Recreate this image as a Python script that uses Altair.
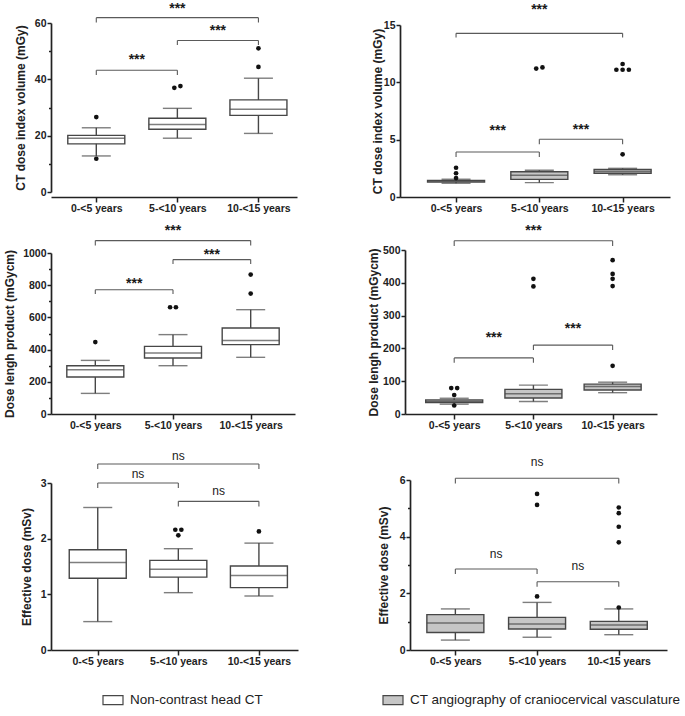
import json
import altair as alt
import pandas as pd

categories = ["0-<5 years", "5-<10 years", "10-<15 years"]
groups = ["Non-contrast head CT", "CT angiography of craniocervical vasculature"]
pair_from = [0, 1, 0]
pair_to = [1, 2, 2]

# --- CT dose index volume, non-contrast head CT
ctdi_nc_low = [12.8, 19.1, 20.8]
ctdi_nc_q1 = [17.1, 22.3, 27.2]
ctdi_nc_med = [19.1, 24.0, 29.4]
ctdi_nc_q3 = [20.1, 26.2, 32.7]
ctdi_nc_high = [22.8, 29.7, 40.4]
ctdi_nc_out = [[26.6, 11.8], [37.0, 37.6], [44.4, 51.0]]
ctdi_nc_br_y = [43.2, 53.8, 61.9]
ctdi_nc_br_drop = [41.5, 52.2, 60.2]
ctdi_nc_br_text = [47.7, 58.0, 65.8]
ctdi_nc_br_lab = ["***", "***", "***"]

# --- CT dose index volume, CT angiography
ctdi_cta_low = [1.2, 1.25, 1.94]
ctdi_cta_q1 = [1.3, 1.54, 2.07]
ctdi_cta_med = [1.38, 1.9, 2.24]
ctdi_cta_q3 = [1.45, 2.2, 2.41]
ctdi_cta_high = [1.55, 2.33, 2.5]
ctdi_cta_out = [[2.55, 2.07, 1.65], [11.2, 11.3], [3.72, 11.6, 11.1, 11.1, 11.1]]
ctdi_cta_br_y = [3.92, 5.03, 14.27]
ctdi_cta_br_drop = [3.49, 4.6, 13.9]
ctdi_cta_br_text = [5.9, 6.0, 16.5]
ctdi_cta_br_lab = ["***", "***", "***"]

# --- Dose length product, non-contrast head CT
dlp_nc_low = [128, 300, 352]
dlp_nc_q1 = [230, 348, 431]
dlp_nc_med = [275, 379, 456]
dlp_nc_q3 = [300, 420, 534]
dlp_nc_high = [333, 493, 648]
dlp_nc_out = [[447], [663, 663], [748, 866]]
dlp_nc_br_y = [772, 959, 1077]
dlp_nc_br_drop = [745, 931, 1046]
dlp_nc_br_text = [820, 1000, 1148]
dlp_nc_br_lab = ["***", "***", "***"]

# --- Dose length product, CT angiography
dlp_cta_low = [30, 38, 65]
dlp_cta_q1 = [35, 49, 73]
dlp_cta_med = [39, 62, 84]
dlp_cta_q3 = [43, 75, 91]
dlp_cta_high = [48, 88, 97]
dlp_cta_out = [[79, 79, 58, 26], [412, 389], [147, 390, 412, 427, 469]]
dlp_cta_br_y = [171, 210, 528]
dlp_cta_br_drop = [156, 195, 512]
dlp_cta_br_text = [237, 266, 565]
dlp_cta_br_lab = ["***", "***", "***"]

# --- Effective dose, non-contrast head CT
ed_nc_low = [0.51, 1.03, 0.97]
ed_nc_q1 = [1.29, 1.31, 1.12]
ed_nc_med = [1.57, 1.45, 1.34]
ed_nc_q3 = [1.80, 1.61, 1.51]
ed_nc_high = [2.56, 1.82, 1.92]
ed_nc_out = [[], [2.16, 2.16, 2.06], [2.13]]
ed_nc_br_y = [3.0, 2.67, 3.34]
ed_nc_br_drop = [2.91, 2.58, 3.25]
ed_nc_br_text = [3.17, 2.87, 3.49]
ed_nc_br_lab = ["ns", "ns", "ns"]

# --- Effective dose, CT angiography
ed_cta_low = [0.35, 0.45, 0.54]
ed_cta_q1 = [0.62, 0.74, 0.73]
ed_cta_med = [0.95, 0.92, 0.88]
ed_cta_q3 = [1.25, 1.15, 1.01]
ed_cta_high = [1.45, 1.68, 1.45]
ed_cta_out = [[], [1.89, 5.12, 5.51], [1.50, 3.8, 4.35, 4.83, 5.03]]
ed_cta_br_y = [2.86, 2.41, 6.06]
ed_cta_br_drop = [2.68, 2.23, 5.88]
ed_cta_br_text = [3.42, 3.0, 6.66]
ed_cta_br_lab = ["ns", "ns", "ns"]

FONT = "Liberation Sans"
STROKE = "#474747"
BRACKET = "#5a5a5a"
TXT = "#222222"
XLABEL = json.dumps(categories) + "[datum.value - 1]"

LEGEND = alt.Legend(
    title=None, orient="none", legendX=51, legendY=666, direction="horizontal",
    columns=2, columnPadding=117, symbolType="M-1,-0.45H1V0.45H-1Z", symbolSize=400,
    symbolStrokeColor=STROKE, symbolStrokeWidth=1.2, labelFont=FONT, labelFontSize=13.5,
    labelColor=TXT, labelOffset=6, labelLimit=400, padding=0,
)


def spread(vals, thresh):
    order = sorted(range(len(vals)), key=lambda i: vals[i])
    clusters = []
    for i in order:
        if clusters and abs(vals[i] - vals[clusters[-1][-1]]) <= thresh:
            clusters[-1].append(i)
        else:
            clusters.append([i])
    off = [0.0] * len(vals)
    for c in clusters:
        n = len(c)
        for k, i in enumerate(c):
            off[i] = (k - (n - 1) / 2) * 0.075
    return off


def panel(key, title, low, q1, med, q3, high, outs, br_y, br_drop, br_text, br_lab,
          group, ymax, major, minor, xdom, xr, yr, width, height, tpad):
    xs = alt.Scale(domain=xdom, range=xr, nice=False, zero=False)
    ys = alt.Scale(domain=[0, ymax], range=yr, nice=False)
    ticks = []
    v = 0.0
    while v <= ymax + 1e-9:
        ticks.append(round(v, 6))
        v += minor
    is_major = f"abs(datum.value/{major} - round(datum.value/{major})) < 1e-6"
    xaxis = alt.Axis(values=[1, 2, 3], labelExpr=XLABEL, title=None, tickSize=5,
                     labelPadding=1, labelFlush=False, grid=False)
    yaxis = alt.Axis(title=title, values=ticks, format="d", offset=-xr[0],
                     labelExpr=f"{is_major} ? datum.label : ''",
                     tickSize={"condition": {"test": f"!({is_major})", "value": 2.5}, "value": 4},
                     labelPadding=1, titlePadding=tpad, minExtent=0, maxExtent=0, grid=False)

    xf = f"x_{key}"
    box = pd.DataFrame({xf: [1, 2, 3], "low": low, "q1": q1, "med": med, "q3": q3,
                        "high": high, "group": group})
    orows = []
    for ci, vals in enumerate(outs):
        offs = spread(vals, 0.025 * ymax)
        for val, o in zip(vals, offs):
            orows.append({xf: ci + 1 + o, "v": val})
    odf = pd.DataFrame(orows, columns=[xf, "v"])
    bdf = pd.DataFrame({xf: [p + 1 for p in pair_from], "b": [p + 1 for p in pair_to],
                        "y": br_y, "ty": br_text, "label": br_lab})
    drows = []
    for a, b, y, d in zip(bdf[xf], bdf["b"], br_y, br_drop):
        drows.append({xf: a, "y": y, "y2": d})
        drows.append({xf: b, "y": y, "y2": d})
    ddf = pd.DataFrame(drows)

    X = lambda f: alt.X(f, scale=xs, axis=xaxis)
    Y = lambda f: alt.Y(f, scale=ys, axis=yaxis)

    whisk = alt.Chart(box).mark_rule(color=STROKE, strokeWidth=1.4).encode(
        x=X(f"{xf}:Q"), y=Y("low:Q"), y2="high:Q")
    caps = alt.Chart(box).transform_fold(["low", "high"], as_=["k", "val"]).mark_tick(
        orient="horizontal", size=29, thickness=1.4, color=STROKE).encode(
        x=X(f"{xf}:Q"), y=Y("val:Q"))
    bars = alt.Chart(box).mark_bar(size=57, stroke=STROKE, strokeWidth=1.4).encode(
        x=X(f"{xf}:Q"), y=Y("q1:Q"), y2="q3:Q",
        color=alt.Color("group:N", scale=alt.Scale(domain=groups, range=["#ffffff", "#c6c6c6"]),
                        legend=LEGEND))
    medl = alt.Chart(box).mark_tick(orient="horizontal", size=57, thickness=1.5,
                                    color=STROKE).encode(x=X(f"{xf}:Q"), y=Y("med:Q"))
    pts = alt.Chart(odf).mark_circle(size=22, color="#111111", opacity=1).encode(
        x=X(f"{xf}:Q"), y=Y("v:Q"))
    hline = alt.Chart(bdf).mark_rule(color=BRACKET, strokeWidth=1.1).encode(
        x=X(f"{xf}:Q"), x2="b:Q", y=Y("y:Q"))
    drops = alt.Chart(ddf).mark_rule(color=BRACKET, strokeWidth=1.1).encode(
        x=X(f"{xf}:Q"), y=Y("y:Q"), y2="y2:Q")
    star = br_lab[0] == "***"
    txt = alt.Chart(bdf).transform_calculate(m=f"(datum['{xf}'] + datum.b) / 2").mark_text(
        font=FONT, fontSize=14 if star else 12, fontWeight="bold" if star else "normal",
        color="#1a1a1a", baseline="alphabetic", dy=6 if star else 4.5).encode(
        x=X("m:Q"), y=Y("ty:Q"), text="label:N")
    return alt.layer(whisk, caps, bars, medl, pts, hline, drops, txt).properties(
        width=width, height=height)


tl = panel("tl", "CT dose index volume (mGy)", ctdi_nc_low, ctdi_nc_q1, ctdi_nc_med, ctdi_nc_q3,
           ctdi_nc_high, ctdi_nc_out, ctdi_nc_br_y, ctdi_nc_br_drop, ctdi_nc_br_text,
           ctdi_nc_br_lab, groups[0], 60, 20, 10, [0.503, 3.414], [0, 246], [169, 0], 246, 174, 24)
tr = panel("tr", "CT dose index volume (mGy)", ctdi_cta_low, ctdi_cta_q1, ctdi_cta_med, ctdi_cta_q3,
           ctdi_cta_high, ctdi_cta_out, ctdi_cta_br_y, ctdi_cta_br_drop, ctdi_cta_br_text,
           ctdi_cta_br_lab, groups[1], 15, 5, 5, [0.387, 3.509], [0, 270], [174, 2], 270, 174, 16)
ml = panel("ml", "Dose lengh product (mGycm)", dlp_nc_low, dlp_nc_q1, dlp_nc_med, dlp_nc_q3,
           dlp_nc_high, dlp_nc_out, dlp_nc_br_y, dlp_nc_br_drop, dlp_nc_br_text,
           dlp_nc_br_lab, groups[0], 1000, 200, 100, [0.494, 3.506], [0, 244], [150, -11], 244, 150, 35)
mr = panel("mr", "Dose lengh product (mGycm)", dlp_cta_low, dlp_cta_q1, dlp_cta_med, dlp_cta_q3,
           dlp_cta_high, dlp_cta_out, dlp_cta_br_y, dlp_cta_br_drop, dlp_cta_br_text,
           dlp_cta_br_lab, groups[1], 500, 100, 100, [0.442, 3.497], [5, 257], [150, -14], 257, 150, 25)
bl = panel("bl", "Effective dose (mSv)", ed_nc_low, ed_nc_q1, ed_nc_med, ed_nc_q3,
           ed_nc_high, ed_nc_out, ed_nc_br_y, ed_nc_br_drop, ed_nc_br_text,
           ed_nc_br_lab, groups[0], 3, 1, 1, [0.482, 3.423], [0, 247], [169, 2], 247, 169, 18)
br = panel("br", "Effective dose (mSv)", ed_cta_low, ed_cta_q1, ed_cta_med, ed_cta_q3,
           ed_cta_high, ed_cta_out, ed_cta_br_y, ed_cta_br_drop, ed_cta_br_text,
           ed_cta_br_lab, groups[1], 6, 2, 1, [0.506, 3.529], [10, 267], [169, -1], 267, 169, 20)

chart = alt.concat(tl, tr, ml, mr, bl, br, columns=2, bounds="flush",
                   spacing={"row": 67, "column": 102}).properties(
    padding={"left": 2, "top": 1, "right": 2, "bottom": 4}, background="white"
).configure_view(stroke=None).configure_axis(
    domainColor=TXT, domainWidth=1.7, tickColor=TXT, tickWidth=1.5,
    labelFont=FONT, labelFontWeight="bold", labelFontSize=10.5, labelColor=TXT,
    titleFont=FONT, titleFontWeight="bold", titleFontSize=12, titleColor=TXT,
)

chart.save("out.html", embed_options={"renderer": "svg", "actions": False})
